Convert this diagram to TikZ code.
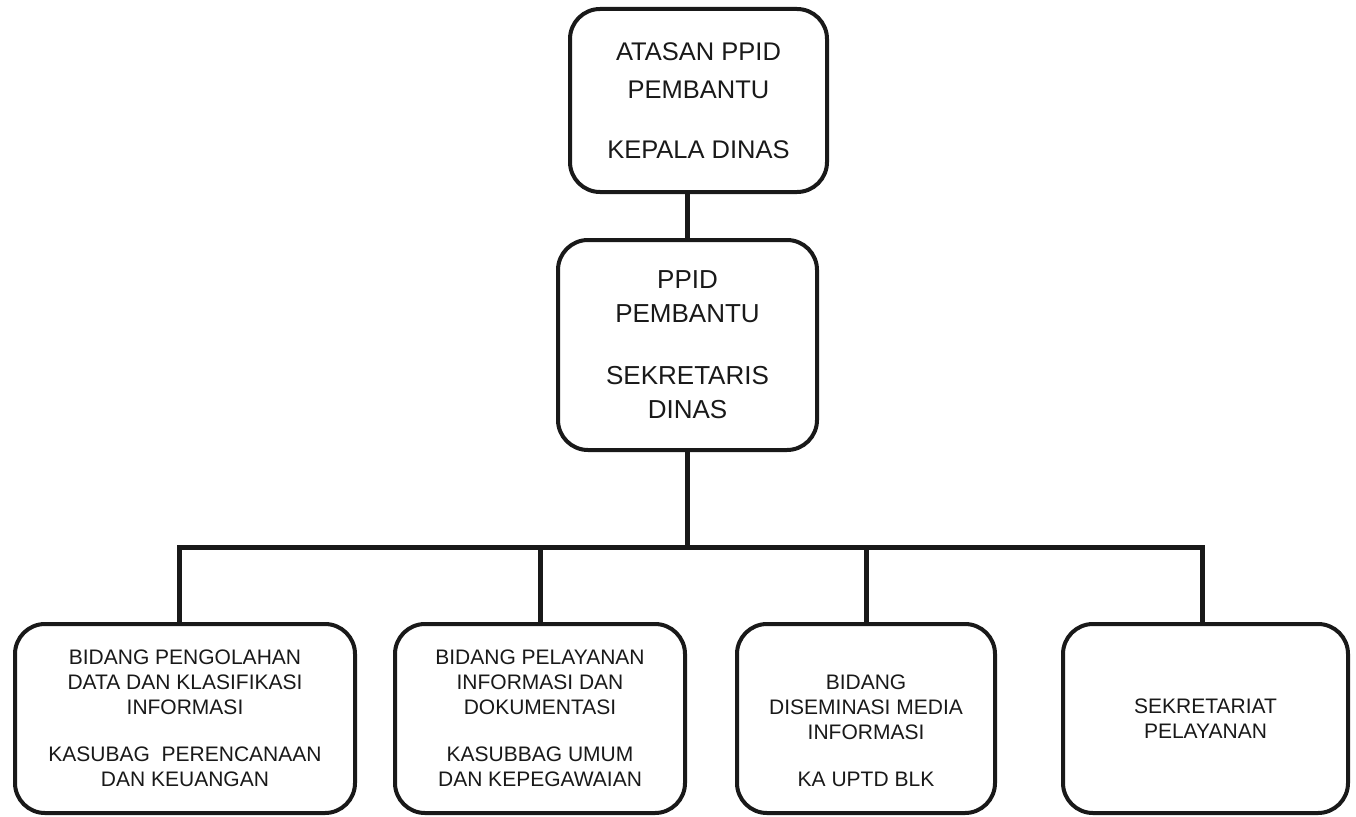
\documentclass[tikz,border=0pt]{standalone}
\usepackage{fontspec}
\setmainfont{Liberation Sans}
\begin{document}
\begin{tikzpicture}[x=1pt,y=-1pt,
  box/.style={draw=black!90, line width=4pt, rounded corners=30pt, inner sep=0pt, align=center, text=black!90},
  conn/.style={draw=black!90, line width=5pt, line join=miter},
  bigtxt/.style={font=\fontsize{25.5}{38}\selectfont},
  midtxt/.style={font=\fontsize{26}{34}\selectfont},
  smalltxt/.style={font=\fontsize{21}{25}\selectfont}]
\useasboundingbox (0,0) rectangle (1356,816);
\fill[white] (0,0) rectangle (1356,816);

\node[box, bigtxt, minimum width=257pt, minimum height=183pt] (top) at (698.5,100.5)
  {ATASAN PPID\\PEMBANTU\\[22pt]KEPALA DINAS};
\node[box, midtxt, minimum width=259pt, minimum height=210pt] (mid) at (687.5,345)
  {PPID\\PEMBANTU\\[28pt]SEKRETARIS\\DINAS};

\node[box, smalltxt, minimum width=340pt, minimum height=189pt] (b1) at (185,718.5)
  {BIDANG PENGOLAHAN\\DATA DAN KLASIFIKASI\\INFORMASI\\[22pt]KASUBAG\ \ PERENCANAAN\\DAN KEUANGAN};
\node[box, smalltxt, minimum width=290pt, minimum height=189pt] (b2) at (540,718.5)
  {BIDANG PELAYANAN\\INFORMASI DAN\\DOKUMENTASI\\[22pt]KASUBBAG UMUM\\DAN KEPEGAWAIAN};
\node[box, minimum width=258pt, minimum height=189pt] (b3) at (866,718.5) {};
\node[smalltxt, align=center, text=black!90, inner sep=0pt] (b3t) at ([yshift=-12pt]b3.center)
  {BIDANG\\DISEMINASI MEDIA\\INFORMASI\\[22pt]KA UPTD BLK};
\node[box, smalltxt, minimum width=285pt, minimum height=189pt] (b4) at (1205.5,718.5)
  {SEKRETARIAT\\PELAYANAN};

\coordinate (barL) at (179,547);
\coordinate (barR) at (1202,547);

\draw[conn] (mid.north) -- (mid.north |- top.south);
\draw[conn] (mid.south) -- (mid.south |- barL);
\draw[conn] (barL |- b1.north) -- (barL) -- (barR) -- (barR |- b4.north);
\draw[conn] (b2.north) -- (b2.north |- barL);
\draw[conn] (b3.north) -- (b3.north |- barL);
\end{tikzpicture}
\end{document}
